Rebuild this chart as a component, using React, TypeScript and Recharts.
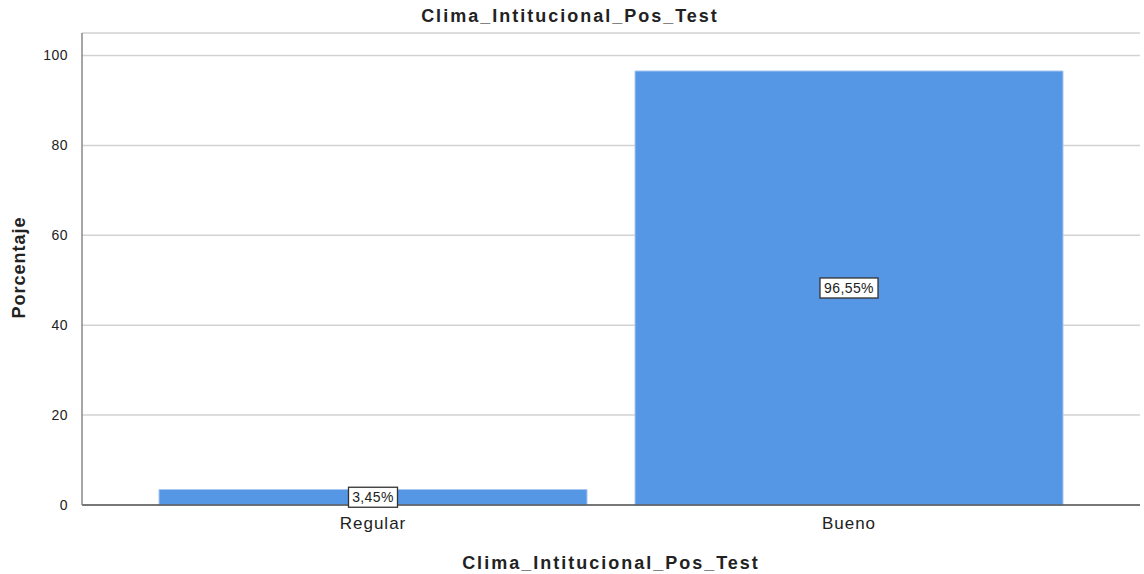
import { BarChart, Bar, XAxis, YAxis, CartesianGrid, LabelList } from "recharts";

const categories = ["Regular", "Bueno"];
const percentages = [3.45, 96.55];
const yTicks = [0, 20, 40, 60, 80, 100];

const chartData = categories.map((name, i) => ({ name, value: percentages[i] }));

const FONT = "'Liberation Sans', Arial, sans-serif";
const TITLE = "Clima_Intitucional_Pos_Test";

// boxed percentage label in the middle of each bar
function BoxLabel(props: any) {
  const { x, y, width, height, value } = props;
  const cx = x + width / 2;
  const cy = y + height / 2;
  const text = `${value.toFixed(2).replace(".", ",")}%`;
  const w = text.length * 9 + 4;
  return (
    <g>
      <rect x={cx - w / 2} y={cy - 10} width={w} height={20} fill="#fff" stroke="#333" strokeWidth={1.3} />
      <text x={cx} y={cy + 5} textAnchor="middle" fontSize={14} fontFamily={FONT} fill="#222" letterSpacing={0.4}>
        {text}
      </text>
    </g>
  );
}

const titleStyle: React.CSSProperties = {
  position: "absolute",
  textAlign: "center",
  fontWeight: "bold",
  fontSize: 18,
  letterSpacing: 2,
  color: "#222",
  whiteSpace: "nowrap",
};

export default function App() {
  return (
    <div style={{ position: "absolute", left: 0, top: 0, width: 1144, height: 574, background: "#fff", fontFamily: FONT }}>
      <div style={{ ...titleStyle, left: 0, width: 1140, top: 6 }}>{TITLE}</div>
      <div style={{ ...titleStyle, left: 82, width: 1058, top: 553 }}>{TITLE}</div>
      <div
        style={{
          ...titleStyle,
          left: 19 - 60,
          width: 120,
          top: 268 - 11,
          letterSpacing: 1,
          transform: "rotate(-90deg)",
        }}
      >
        Porcentaje
      </div>
      <BarChart width={1144} height={574} data={chartData} margin={{ top: 33, right: 4, left: 0, bottom: 0 }} barSize={428}>
        <CartesianGrid vertical={false} stroke="#d2d2d2" strokeWidth={1.5} />
        <XAxis
          dataKey="name"
          height={69}
          padding={{ left: 53, right: 53 }}
          tickLine={false}
          axisLine={{ stroke: "#555", strokeWidth: 1.5 }}
          tick={{ fontSize: 17, fill: "#222", fontFamily: FONT, letterSpacing: 1 }}
          tickMargin={6}
        />
        <YAxis
          width={82}
          domain={[0, 105]}
          ticks={yTicks}
          interval={0}
          tickLine={false}
          axisLine={{ stroke: "#888", strokeWidth: 1.5 }}
          tick={{ fontSize: 14, fill: "#222", fontFamily: FONT, letterSpacing: 0.5 }}
          tickMargin={8}
        />
        <Bar dataKey="value" fill="#5596E5" stroke="#a8c8f0" strokeWidth={1} isAnimationActive={false}>
          <LabelList dataKey="value" content={BoxLabel} />
        </Bar>
      </BarChart>
    </div>
  );
}
